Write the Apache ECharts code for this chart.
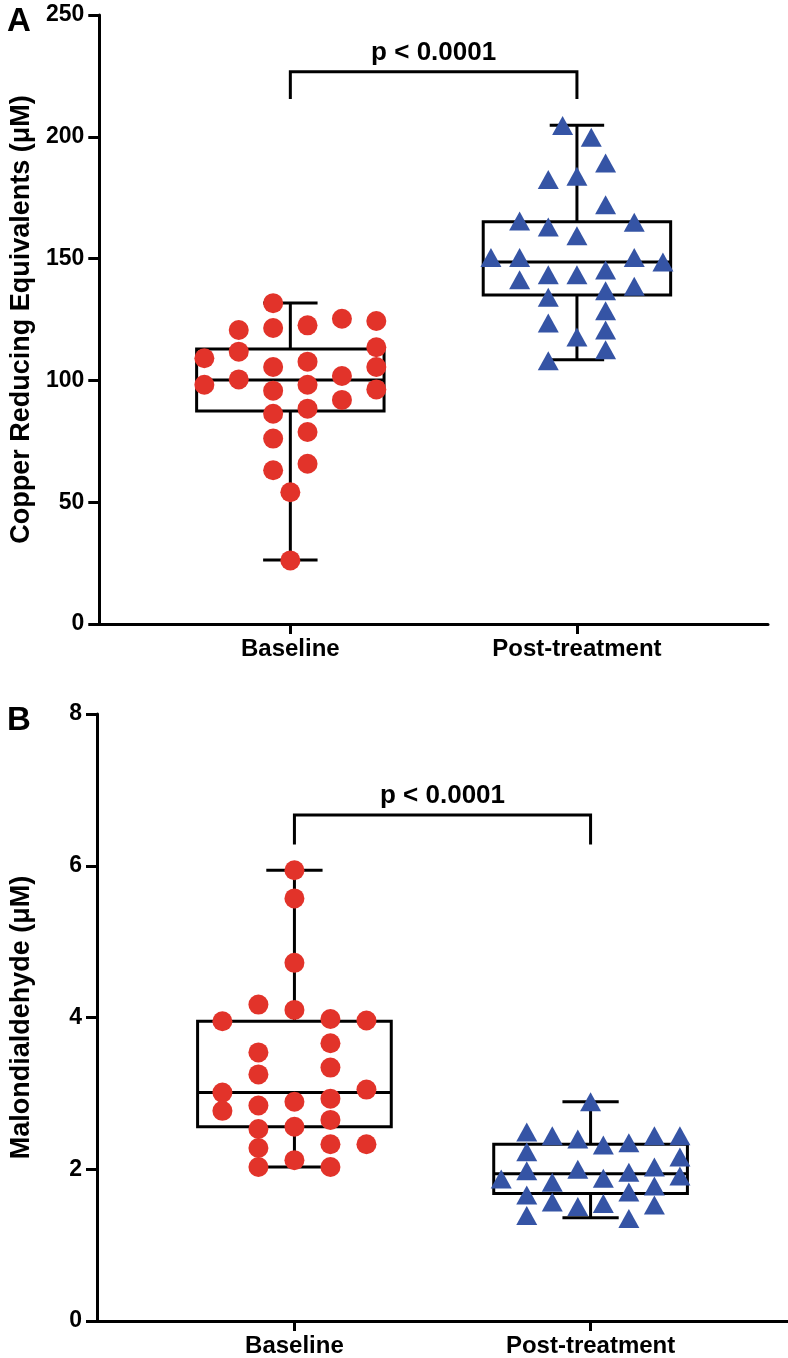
<!DOCTYPE html>
<html><head><meta charset="utf-8">
<script src="https://cdn.jsdelivr.net/npm/echarts@6/dist/echarts.min.js"></script>
<style>html,body{margin:0;padding:0;background:#fff}#c{width:788px;height:1358px}</style>
</head><body><div id="c"></div><script>
// ---------- data ----------
const categories = ['Baseline', 'Post-treatment'];
const panelLetters = ['A', 'B'];
const yTitleA = 'Copper Reducing Equivalents (μM)';
const yTitleB = 'Malondialdehyde (μM)';
const pLabelA = 'p < 0.0001';
const pLabelB = 'p < 0.0001';
const yAxisA = [0, 250, 50];   // min, max, tick step
const yAxisB = [0, 8, 2];

// box stats: min, q1, median, q3, max
const boxA_baseline = [26.3, 87.4, 100.2, 112.9, 131.8];
const boxA_post     = [108.5, 135.1, 148.6, 165.1, 204.7];
const boxB_baseline = [2.03, 2.56, 3.01, 3.95, 5.94];
const boxB_post     = [1.36, 1.68, 1.94, 2.33, 2.89];

// bracket: bar level, leg end level
const bracketA = [226.7, 215.5];
const bracketB = [6.67, 6.28];

// individual values and their swarm column slot
const valsA_baseline = [131.7,120.7,121.5,122.6,125.3,124.4,109.1,111.8,113.6,105.5,107.7,105.5,98.2,100.4,101.8,95.8,98.2,96.3,92.0,86.3,88.4,76.1,78.8,63.1,65.8,54.1,26.1];
const slotA_baseline = [-1,-3,-1,1,3,5,-5,-3,5,-1,1,5,-5,-3,3,-1,1,5,3,-1,1,-1,1,-1,1,0,0];
const valsA_post = [204.6,199.8,189.2,182.5,183.8,172.1,165.4,163.0,164.9,159.4,150.5,150.5,150.5,148.6,141.3,143.4,143.4,145.3,138.6,136.8,134.1,128.6,123.6,120.7,117.8,112.6,108.1];
const slotA_post = [-0.5,0.5,1,-1,0,1,-2,-1,2,0,-3,-2,2,3,-2,-1,0,1,2,1,-1,1,-1,1,0,1,-1];
const valsB_baseline = [5.94,5.57,4.72,4.17,4.10,3.95,3.98,3.96,3.54,3.66,3.25,3.34,3.01,3.05,2.77,2.84,2.89,2.93,2.65,2.53,2.56,2.28,2.33,2.33,2.12,2.03,2.03];
const slotB_baseline = [0,0,0,-1,0,-2,1,2,-1,1,-1,1,-2,2,-2,-1,0,1,1,-1,0,-1,1,2,0,-1,1];
const valsB_post = [2.89,2.49,2.44,2.40,2.32,2.35,2.44,2.44,2.23,2.16,1.98,2.00,2.03,1.91,1.87,1.83,1.88,1.96,1.70,1.78,1.66,1.57,1.51,1.55,1.53,1.39,1.35];
const slotB_post = [0,-5,-3,-1,1,3,5,7,-5,7,-5,-1,5,7,-7,-3,1,3,3,5,-5,-3,-1,1,5,-5,3];

// ---------- styling ----------
const FONT = '"Liberation Sans", Arial, Helvetica, sans-serif';
const RED = '#e2332a', BLUE = '#3554a5';
const BOX_HALF = 0.327, CAP_HALF = 0.095;
const X_MIN = 1 / 3, X_MAX = 8 / 3;

function pts(vals, slots, center, step) {
  return vals.map((v, i) => [center + slots[i] * step, v]);
}

function boxItem(params, api) {
  const x = api.value(0);
  const mn = api.value(1), q1 = api.value(2), md = api.value(3), q3 = api.value(4), mx = api.value(5);
  const L = api.coord([x - BOX_HALF, q1])[0], R = api.coord([x + BOX_HALF, q1])[0];
  const cx = api.coord([x, q1])[0];
  const cl = api.coord([x - CAP_HALF, q1])[0], cr = api.coord([x + CAP_HALF, q1])[0];
  const y = v => api.coord([x, v])[1];
  const st = { stroke: '#000', lineWidth: 3, fill: null };
  return { type: 'group', children: [
    { type: 'rect', shape: { x: L, y: y(q3), width: R - L, height: y(q1) - y(q3) }, style: { stroke: '#000', lineWidth: 3, fill: 'none' } },
    { type: 'line', shape: { x1: L, y1: y(md), x2: R, y2: y(md) }, style: st },
    { type: 'line', shape: { x1: cx, y1: y(q3), x2: cx, y2: y(mx) }, style: st },
    { type: 'line', shape: { x1: cx, y1: y(q1), x2: cx, y2: y(mn) }, style: st },
    { type: 'line', shape: { x1: cl, y1: y(mx), x2: cr, y2: y(mx) }, style: st },
    { type: 'line', shape: { x1: cl, y1: y(mn), x2: cr, y2: y(mn) }, style: st }
  ]};
}

function bracketRenderer(label) {
  return function (params, api) {
    const p1 = api.coord([api.value(0), api.value(3)]);
    const p2 = api.coord([api.value(0), api.value(2)]);
    const p3 = api.coord([api.value(1), api.value(2)]);
    const p4 = api.coord([api.value(1), api.value(3)]);
    return { type: 'group', children: [
      { type: 'polyline', shape: { points: [p1, p2, p3, p4] }, style: { stroke: '#000', lineWidth: 3, fill: null } },
      { type: 'text', style: { text: label, x: (p2[0] + p3[0]) / 2, y: p2[1] - 6, align: 'center', verticalAlign: 'bottom', font: 'bold 26px ' + FONT, fill: '#000' } }
    ]};
  };
}

function xAxis(gi) {
  return {
    type: 'value', gridIndex: gi, min: X_MIN, max: X_MAX,
    axisLine: { show: true, onZero: false, lineStyle: { color: '#000', width: 3 } },
    axisTick: { show: true, customValues: [1, 2], length: 10, lineStyle: { color: '#000', width: 3 } },
    axisLabel: { customValues: [1, 2], formatter: v => categories[Math.round(v) - 1], margin: 13,
      color: '#000', fontSize: 24, fontWeight: 'bold', fontFamily: FONT },
    splitLine: { show: false }
  };
}
function yAxis(gi, ax, name) {
  return {
    type: 'value', gridIndex: gi, min: ax[0], max: ax[1], interval: ax[2],
    name: name, nameLocation: 'middle', nameGap: 62,
    nameTextStyle: { color: '#000', fontSize: 27, fontWeight: 'bold', fontFamily: FONT },
    axisLine: { show: true, onZero: false, lineStyle: { color: '#000', width: 3 } },
    axisTick: { show: true, length: 11, lineStyle: { color: '#000', width: 3 } },
    axisLabel: { margin: 15, color: '#000', fontSize: 23, fontWeight: 'bold', fontFamily: FONT },
    splitLine: { show: false }
  };
}

const chart = echarts.init(document.getElementById('c'), null, { renderer: 'canvas' });
chart.setOption({
  animation: false,
  backgroundColor: '#fff',
  grid: [
    { left: 97, top: 15, width: 671, height: 609 },
    { left: 97, top: 714, width: 691, height: 608 }
  ],
  xAxis: [xAxis(0), xAxis(1)],
  yAxis: [yAxis(0, yAxisA, yTitleA), yAxis(1, yAxisB, yTitleB)],
  graphic: [
    { type: 'text', left: 7, top: 5, style: { text: panelLetters[0], font: 'bold 33px ' + FONT, fill: '#000' } },
    { type: 'text', left: 7, top: 704, style: { text: panelLetters[1], font: 'bold 33px ' + FONT, fill: '#000' } }
  ],
  series: [
    { type: 'custom', xAxisIndex: 0, yAxisIndex: 0, renderItem: boxItem, encode: { x: 0, y: [1, 2, 3, 4, 5] },
      data: [[1].concat(boxA_baseline), [2].concat(boxA_post)], z: 2 },
    { type: 'custom', xAxisIndex: 1, yAxisIndex: 1, renderItem: boxItem, encode: { x: 0, y: [1, 2, 3, 4, 5] },
      data: [[1].concat(boxB_baseline), [2].concat(boxB_post)], z: 2 },
    { type: 'custom', xAxisIndex: 0, yAxisIndex: 0, renderItem: bracketRenderer(pLabelA), encode: { x: [0, 1], y: [2, 3] },
      data: [[1, 2].concat(bracketA)], z: 2 },
    { type: 'custom', xAxisIndex: 1, yAxisIndex: 1, renderItem: bracketRenderer(pLabelB), encode: { x: [0, 1], y: [2, 3] },
      data: [[1, 2].concat(bracketB)], z: 2 },
    { type: 'scatter', xAxisIndex: 0, yAxisIndex: 0, symbol: 'circle', symbolSize: 20, itemStyle: { color: RED, opacity: 1 },
      data: pts(valsA_baseline, slotA_baseline, 1, 0.06), z: 5 },
    { type: 'scatter', xAxisIndex: 0, yAxisIndex: 0, symbol: 'triangle', symbolSize: [21, 19], itemStyle: { color: BLUE, opacity: 1 },
      data: pts(valsA_post, slotA_post, 2, 0.1), z: 5 },
    { type: 'scatter', xAxisIndex: 1, yAxisIndex: 1, symbol: 'circle', symbolSize: 20, itemStyle: { color: RED, opacity: 1 },
      data: pts(valsB_baseline, slotB_baseline, 1, 0.1216), z: 5 },
    { type: 'scatter', xAxisIndex: 1, yAxisIndex: 1, symbol: 'triangle', symbolSize: [21, 19], itemStyle: { color: BLUE, opacity: 1 },
      data: pts(valsB_post, slotB_post, 2, 0.0431), z: 5 }
  ]
});
</script></body></html>
